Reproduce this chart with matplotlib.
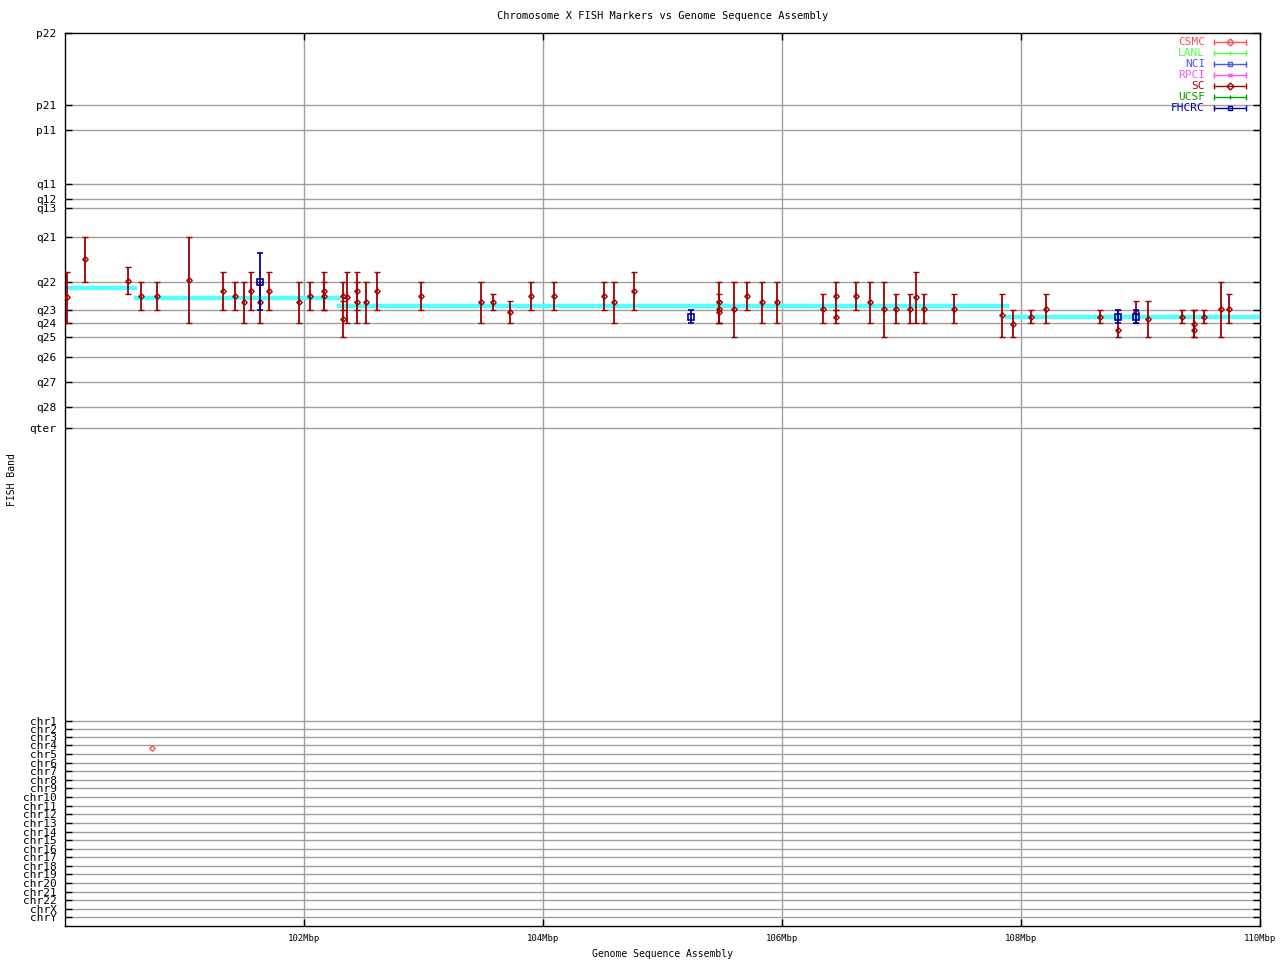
import matplotlib
matplotlib.use("Agg")
import matplotlib.pyplot as plt
from matplotlib.ticker import FuncFormatter

# band positions on the vertical scale (top = p22)
band_labels = ["p22", "p21", "p11", "q11", "q12", "q13", "q21", "q22", "q23", "q24",
               "q25", "q26", "q27", "q28", "qter"]
band_pos = [33, 105.3, 130.3, 184.3, 199.3, 208, 237.3, 282.3, 310.3, 323.3,
            337.3, 357.3, 382.3, 407.3, 428.3]
chr_labels = ["chr1", "chr2", "chr3", "chr4", "chr5", "chr6", "chr7", "chr8", "chr9",
              "chr10", "chr11", "chr12", "chr13", "chr14", "chr15", "chr16", "chr17",
              "chr18", "chr19", "chr20", "chr21", "chr22", "chrX", "chrY"]
chr_pos = [720.7, 728.7, 737.3, 745.3, 754, 763, 771, 780, 788.3, 797.3, 806, 814.3,
           823, 831.7, 840.3, 849, 857, 866, 874, 883, 892, 900.3, 909.3, 917.3]

# assembly band segments (Mbp start, Mbp end, band position)
seg_start = [99.98, 100.58, 102.28, 107.87]
seg_end = [100.6, 102.31, 107.9, 110.0]
seg_band = [287.7, 297.7, 305.7, 317.3]

# SC markers: position (Mbp), band, upper and lower band limits
sc_x = [100.02, 100.17, 100.53, 100.64, 100.77, 101.04, 101.32, 101.42, 101.50, 101.56,
        101.63, 101.71, 101.96, 102.05, 102.17, 102.17, 102.33, 102.33, 102.36, 102.44,
        102.44, 102.52, 102.61, 102.98, 103.48, 103.58, 103.72, 103.90, 104.09, 104.51,
        104.59, 104.76, 105.47, 105.47, 105.47, 105.60, 105.71, 105.83, 105.96, 106.34,
        106.45, 106.45, 106.62, 106.74, 106.85, 106.95, 107.07, 107.12, 107.19, 107.44,
        107.84, 107.93, 108.08, 108.21, 108.66, 108.81, 108.96, 109.06, 109.35, 109.45,
        109.45, 109.53, 109.67, 109.74]
sc_y = [297.3, 259.3, 281.3, 296.3, 296.3, 280.3, 291.3, 296.3, 302, 291.3,
        302, 291.3, 302, 296.3, 291.3, 296.3, 296.3, 319.3, 297.3, 291.3,
        302, 302, 291.3, 296.3, 302, 302, 312, 296.3, 296.3, 296.3,
        302, 291.3, 302, 309.3, 312, 309.3, 296.3, 302, 302, 309.3,
        296.3, 317.3, 296.3, 302, 309.3, 309.3, 309.3, 297.3, 309.3, 309.3,
        315.3, 324.3, 317.3, 309.3, 317.3, 330, 312.3, 319.3, 317.3, 324.3,
        330, 317.3, 309.3, 309.3]
sc_top = [271.7, 237.3, 267.3, 282.3, 282.3, 237.3, 271.7, 282.3, 282.3, 271.7,
          282.3, 271.7, 282.3, 282.3, 271.7, 282.3, 282.3, 301.3, 271.7, 271.7,
          282.3, 282.3, 271.7, 282.3, 282.3, 294.3, 301.3, 282.3, 282.3, 282.3,
          282.3, 271.7, 282.3, 294.3, 301.3, 282.3, 282.3, 282.3, 282.3, 294.3,
          282.3, 310.3, 282.3, 282.3, 282.3, 294.3, 294.3, 271.7, 294.3, 294.3,
          294.3, 310.3, 310.3, 294.3, 310.3, 310.3, 301.3, 301.3, 310.3, 310.3,
          310.3, 310.3, 282.3, 294.3]
sc_bot = [323.3, 282.3, 294, 310.3, 310.3, 323.3, 310.3, 310.3, 323.3, 310.3,
          323.3, 310.3, 323.3, 310.3, 310.3, 310.3, 310.3, 337.3, 323.3, 310.3,
          323.3, 323.3, 310.3, 310.3, 323.3, 310.3, 323.3, 310.3, 310.3, 310.3,
          323.3, 310.3, 323.3, 323.3, 323.3, 337.3, 310.3, 323.3, 323.3, 323.3,
          310.3, 323.3, 310.3, 323.3, 337.3, 323.3, 323.3, 323.3, 323.3, 323.3,
          337.3, 337.3, 323.3, 323.3, 323.3, 337.3, 323.3, 337.3, 323.3, 337.3,
          337.3, 323.3, 337.3, 323.3]

# FHCRC markers
fh_x = [101.63, 105.24, 108.81, 108.96]
fh_y = [282.3, 317.3, 317.3, 317.3]
fh_top = [253.3, 310.3, 310.3, 310.3]
fh_bot = [310.3, 323.3, 323.3, 323.3]

# CSMC marker mapped to another chromosome
csmc_x = [100.73]
csmc_y = [747.7]

x_ticks = [102, 104, 106, 108, 110]

sources = ["CSMC", "LANL", "NCI", "RPCI", "SC", "UCSF", "FHCRC"]
src_colors = ["#ff5050", "#50ff50", "#5050ff", "#ff50ff", "#a00000", "#00a000", "#0000a0"]
src_markers = ["D", "|", "s", "x", "D", "|", "s"]

mono = "DejaVu Sans Mono"
plt.rcParams["font.family"] = mono

fig = plt.figure(figsize=(12.8, 9.6), dpi=100)
ax = fig.add_axes([65 / 1280, 1 - 926 / 960, 1195 / 1280, 893 / 960])

for y in band_pos[1:] + chr_pos:
    ax.axhline(y, color="#a0a0a0", lw=1, zorder=0)
for x in x_ticks[:-1]:
    ax.axvline(x, color="#a0a0a0", lw=1, zorder=0)

for s, e, b in zip(seg_start, seg_end, seg_band):
    ax.plot([s, e], [b, b], color="#55ffff", lw=3.2, solid_capstyle="butt", zorder=1)

ax.errorbar(sc_x, sc_y, yerr=[[y - t for y, t in zip(sc_y, sc_top)],
                              [b - y for y, b in zip(sc_y, sc_bot)]],
            fmt="D", ms=2.8, mfc="none", mec="#a00000", mew=1, ecolor="#a00000",
            elinewidth=1.3, capsize=2.3, capthick=1.3, zorder=3)
ax.errorbar(fh_x, fh_y, yerr=[[y - t for y, t in zip(fh_y, fh_top)],
                              [b - y for y, b in zip(fh_y, fh_bot)]],
            fmt="s", ms=4, mfc="none", mec="#0000a0", mew=1.2, ecolor="#0000a0",
            elinewidth=1.3, capsize=2.3, capthick=1.3, zorder=4)
ax.plot(csmc_x, csmc_y, "D", ms=2.8, mfc="none", mec="#ff5050", mew=1, zorder=3)

ax.set_xlim(100, 110)
ax.set_ylim(926, 33)
ax.set_xticks(x_ticks)
ax.xaxis.set_major_formatter(FuncFormatter(lambda v, p: "%dMbp" % v))
ax.set_yticks(band_pos + chr_pos)
ax.set_yticklabels(band_labels + chr_labels)
ax.tick_params(axis="y", direction="in", length=5, width=1, right=True,
               labelsize=8, pad=6)
ax.tick_params(axis="x", direction="in", length=5, width=1, top=True,
               labelsize=6.5, pad=6)
for sp in ax.spines.values():
    sp.set_linewidth(1)

ax.set_title("Chromosome X FISH Markers vs Genome Sequence Assembly", fontsize=7.5, pad=10)
ax.set_xlabel("Genome Sequence Assembly", fontsize=7, labelpad=4)
fig.text(12 / 1280, 0.5, "FISH Band", rotation=90, fontsize=7, ha="center", va="center")

# legend drawn in axes fraction
for i, (name, col, mk) in enumerate(zip(sources, src_colors, src_markers)):
    yy = 1 - (9 + 11 * i) / 893
    ax.text(1 - 55 / 1195, yy, name, color=col, fontsize=8, ha="right", va="center",
            transform=ax.transAxes)
    ax.plot([1 - 46 / 1195, 1 - 14 / 1195], [yy, yy], color=col, lw=1,
            transform=ax.transAxes, clip_on=False)
    ax.plot([1 - 46 / 1195, 1 - 14 / 1195], [yy, yy], "|", color=col, ms=5, mew=1,
            transform=ax.transAxes, clip_on=False)
    ax.plot([1 - 30 / 1195], [yy], mk, color=col, ms=3.5, mfc="none", mew=1,
            transform=ax.transAxes, clip_on=False)

fig.savefig("out.png", dpi=100)
